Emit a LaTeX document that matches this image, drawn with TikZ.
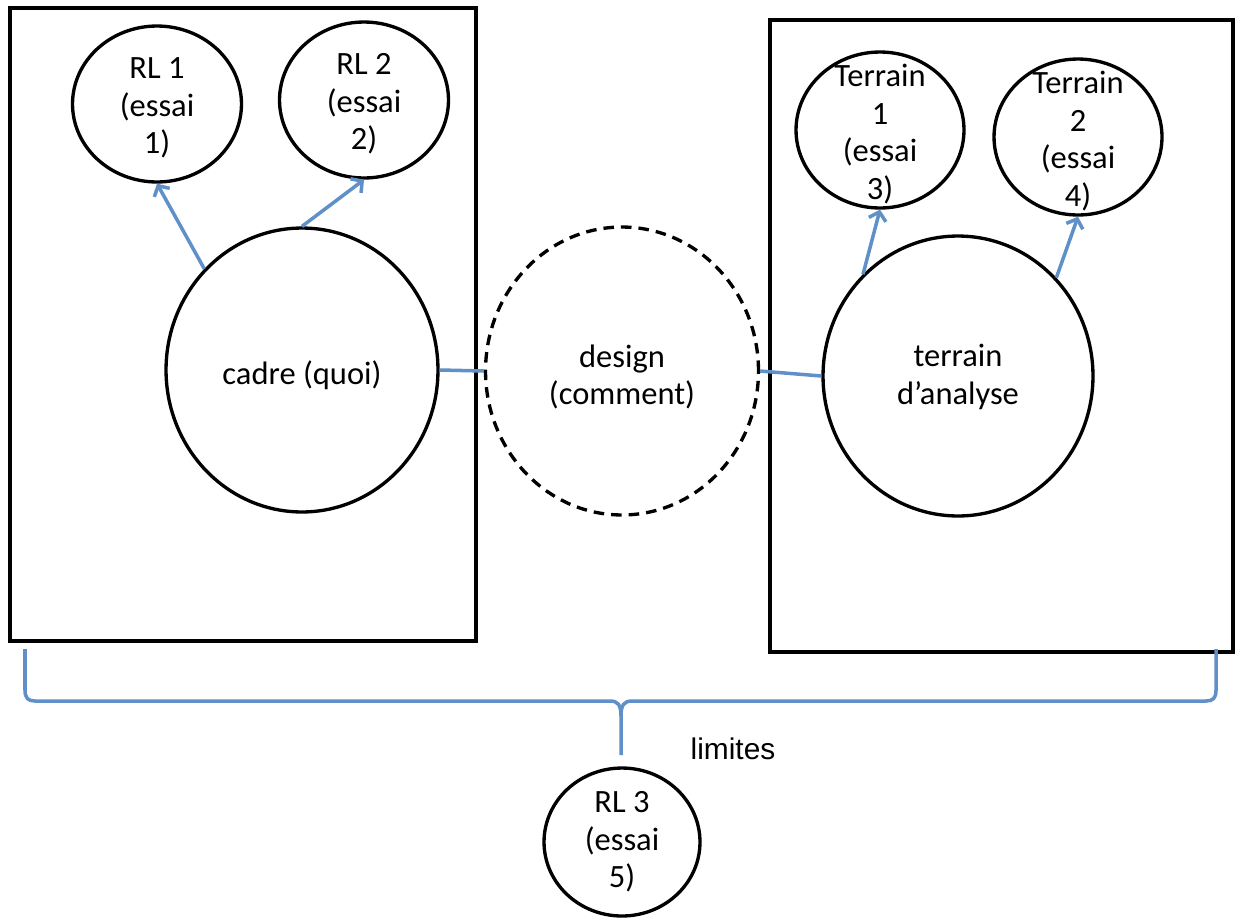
\documentclass[tikz,border=0pt]{standalone}
\usepackage{fontspec}
\setmainfont{Carlito}
\newfontfamily\arialfont{Liberation Sans}
\usetikzlibrary{shapes.geometric,arrows.meta}

\definecolor{linkblue}{RGB}{95,145,200}

\tikzset{
  smallbub/.style={draw, ellipse, line width=1.9pt, inner sep=0pt, minimum width=3.38cm, minimum height=3.12cm},
  bigbub/.style={draw, ellipse, line width=1.9pt, inner sep=0pt},
  lbl/.style={align=center, inner sep=0pt, font=\fontsize{18.5}{21.4}\selectfont},
  link/.style={linkblue, line width=2pt},
  linkarrow/.style={link, -{Straight Barb[length=4.5pt,width=10pt,line width=2pt]}}
}

\begin{document}
\begin{tikzpicture}[x=0.02cm, y=-0.02cm]
\useasboundingbox (0,0) rectangle (1236,917);

\draw [line width=2pt] (10,8) rectangle (476,641);
\draw [line width=2pt] (770,20) rectangle (1233,652);

\node [bigbub, minimum width=5.44cm, minimum height=5.68cm] (cadre) at (302,370) {};
\node [bigbub, dashed, dash pattern=on 6pt off 4pt, minimum width=5.46cm, minimum height=5.76cm] (design) at (622,371) {};
\node [bigbub, minimum width=5.4cm, minimum height=5.6cm] (terrain) at (958,376) {};

\node [lbl] (cadretxt) at (302,375) {cadre (quoi)};
\node [lbl] (designtxt) at (622,377) {design\\(comment)};
\node [lbl] (terraintxt) at (958,377) {terrain\\d’analyse};

\node [smallbub] (rl1) at (157,104) {};
\node [smallbub] (rl2) at (364,100) {};
\node [smallbub, minimum width=3.36cm] (t1) at (880,130) {};
\node [smallbub, minimum width=3.36cm] (t2) at (1078,137) {};
\node [smallbub, minimum width=3.12cm, minimum height=2.96cm] (rl3) at (622,842) {};

\node [lbl] (rl1txt) at (157,108) {RL 1\\(essai\\1)};
\node [lbl] (rl2txt) at (364,104) {RL 2\\(essai\\2)};
\node [lbl] (t1txt) at (880,134) {Terrain\\1\\(essai\\3)};
\node [lbl] (t2txt) at (1078,141) {Terrain\\2\\(essai\\4)};
\node [lbl] (rl3txt) at (622,842) {RL 3\\(essai\\5)};

\draw [linkarrow] (cadre.134) -- (rl1.south);
\draw [linkarrow] (cadre.90) -- (rl2.south);
\draw [linkarrow] (terrain.133) -- (t1.south);
\draw [linkarrow] (terrain.45) -- (t2.south);

\draw [link] (cadre.east) -- (design.west);
\draw [link] (design.east) -- (terrain.west);

% accolade
\coordinate (braceL) at (25,649);
\coordinate (braceR) at (1216,649);
\coordinate (braceTip) at (621,755);
\draw [link] (braceL) -- (25,690) .. controls (25,698) and (28,701) .. (35,701) -- (610,701) .. controls (618,701) and (621,705) .. (621,716) -- (braceTip);
\draw [link] (621,716) .. controls (621,705) and (624,701) .. (632,701) -- (1206,701) .. controls (1213,701) and (1216,698) .. (1216,690) -- (braceR);

\node [font=\arialfont\fontsize{17}{21}\selectfont, inner sep=0pt] (limites) at (733,749) {limites};
\end{tikzpicture}
\end{document}
